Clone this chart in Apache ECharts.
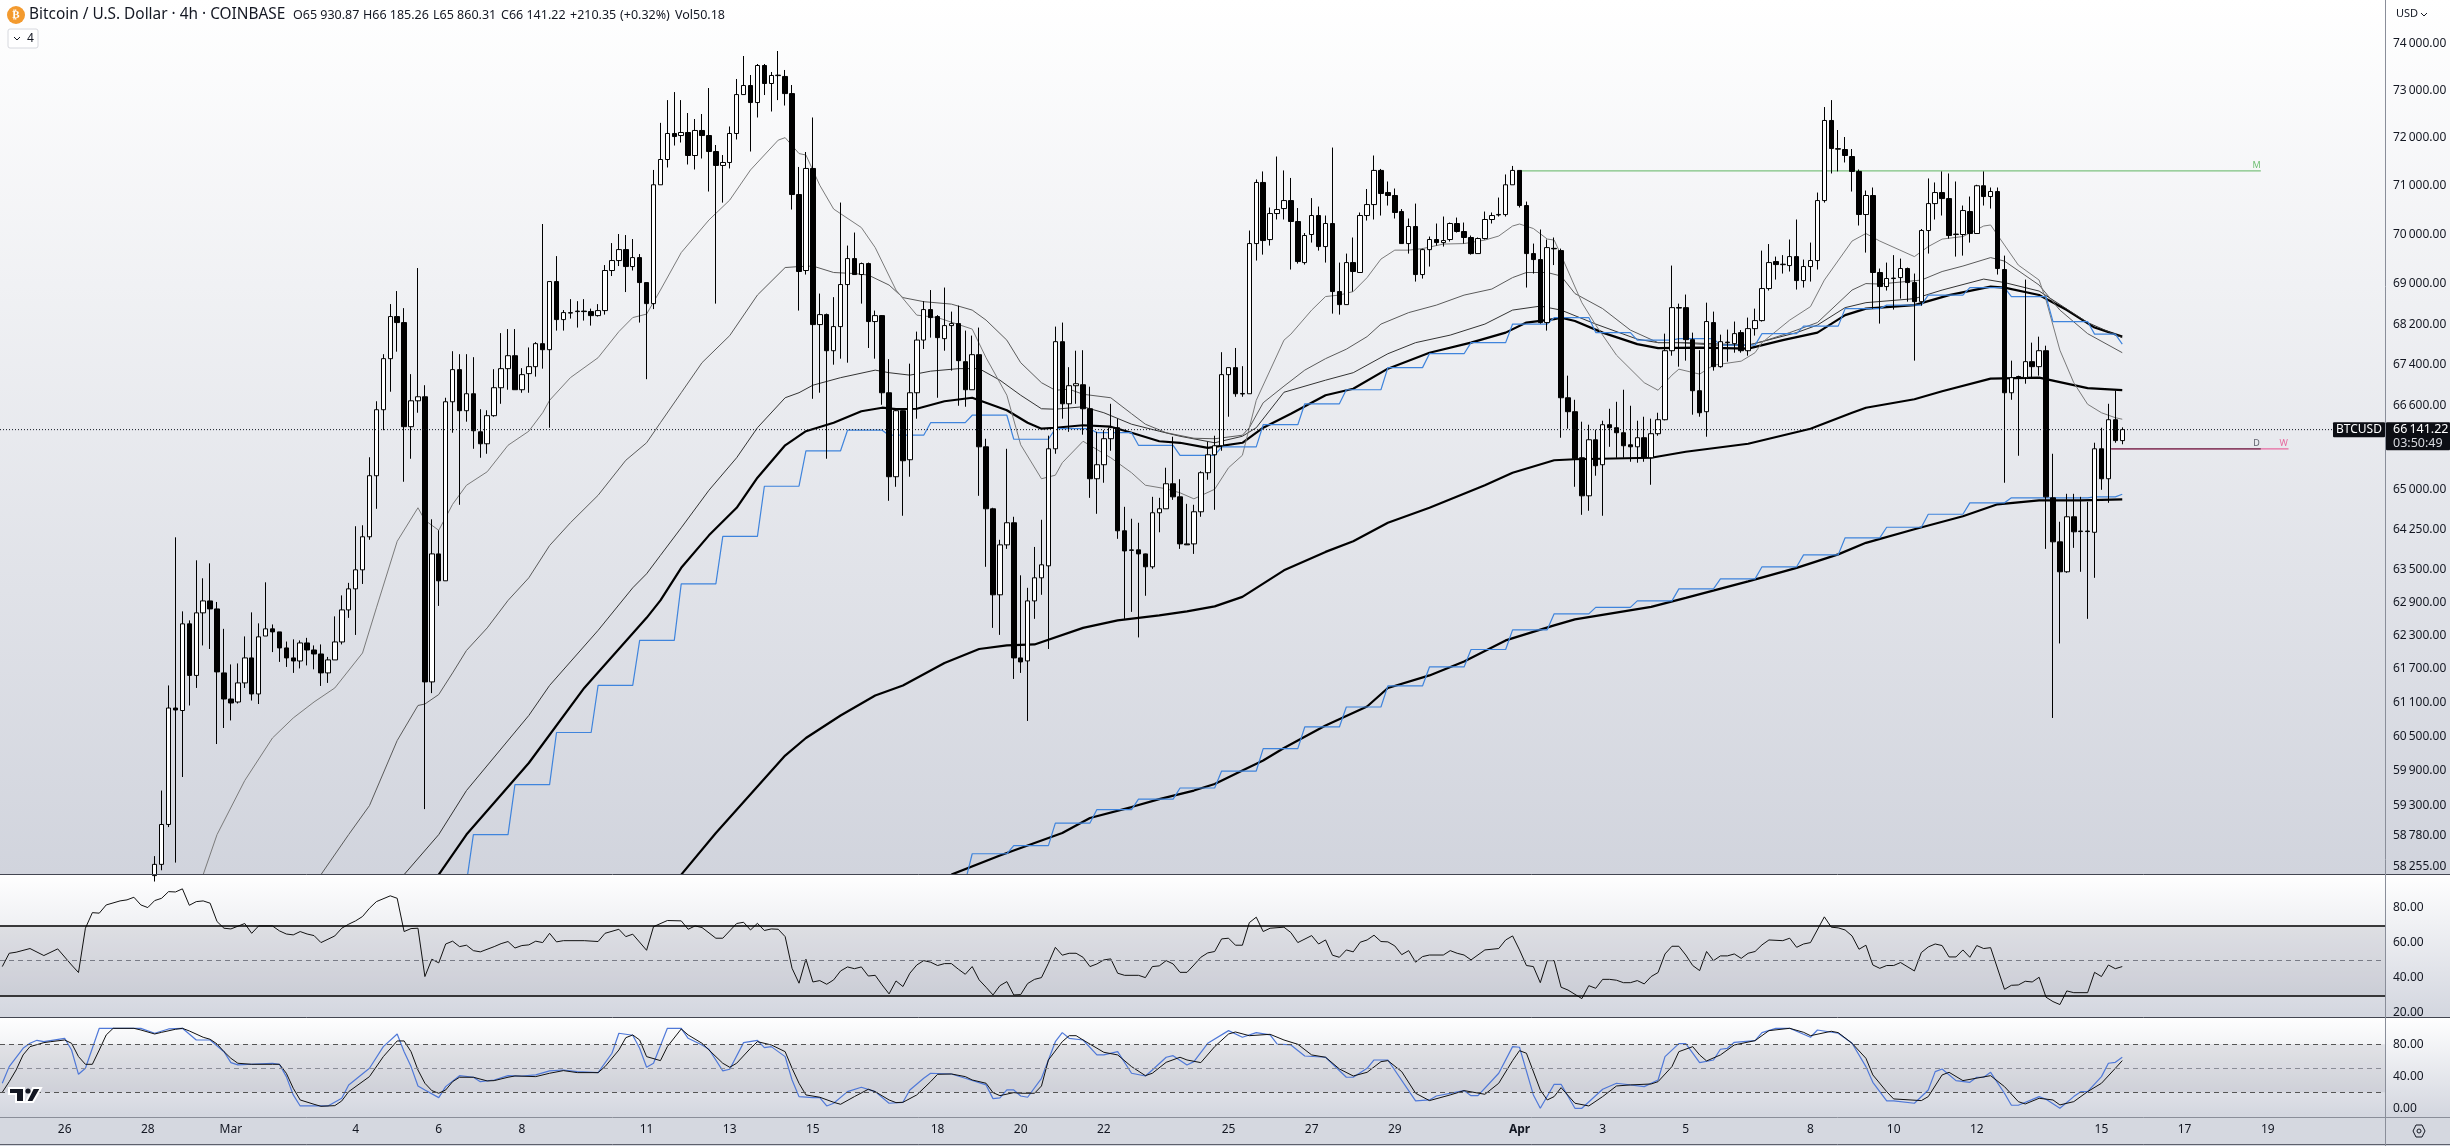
<!DOCTYPE html>
<html><head><meta charset="utf-8">
<style>html,body{margin:0;padding:0;background:#fff}#c{width:2450px;height:1146px}</style>
<script src="https://cdn.jsdelivr.net/npm/echarts@6/dist/echarts.min.js"></script>
</head><body><div id="c"></div>
<script>
// rows: open, close, low, high — first row is bar 0
const candlesA=[[58100,58290,58000,58430],[58290,58969,58190,59554],[58970,61000,58925,61402],[61000,60965,58320,64103],[60956,62511,59789,62738],[62511,61581,61045,62574],[61581,62711,61357,63676],[62711,62929,62120,63344],[62929,62783,62056,63620],[62783,61644,60365,62910],[61626,61160,60647,62420],[61160,61089,60780,61778],[61107,61447,61080,61796],[61447,61895,61357,62283],[61895,61250,61133,62720],[61250,62275,61071,62520],[62290,62420,62290,63270],[62420,62365,62000,62500],[62365,62075,61823,62365],[62075,61895,61733,62190],[61895,61840,61626,62230],[61840,62165,61706,62210],[62165,62038,61760,62257],[62038,61966,61690,62120],[61966,61626,61393,62138],[61626,61859,61447,61913],[61859,62183,61859,62647],[62183,62765,62138,63030],[62765,63150,62620,63260],[63150,63500,62310,64310],[63500,64113,63240,64328],[64113,65261,64057,65612],[65261,66525,64637,66689],[66525,67520,66130,67608],[67520,68351,66874,68600],[68351,68232,67657,68860],[68232,66198,65147,68519],[66198,66698,65584,67217],[66698,66776,66467,69322],[66776,61465,59234,67001],[61465,63795,61265,64440],[63795,63298,62838,64234],[63298,66679,63298,66757],[66679,67305,66082,67666],[67305,66506,64712,67608],[66506,66835,66294,67608],[66835,66120,65774,67549],[66100,65870,65603,66535],[65870,66410,65679,66515],[66410,66952,66390,67314],[66952,67324,66640,68023],[67324,67578,66913,68103],[67578,66913,66913,68103],[66913,67207,66854,67334],[67227,67363,66854,67740],[67363,67815,67168,67845],[67815,67696,67324,70215],[67696,69050,66178,69050],[69050,68291,68073,69563],[68291,68430,68073,68480],[68420,68430,68311,68698],[68450,68460,68133,68658],[68460,68450,68271,68698],[68450,68370,68172,68509],[68370,68470,68351,68599],[68470,69272,68390,69382],[69272,69473,69161,69827],[69473,69695,69362,70011],[69695,69352,68840,69990],[69352,69533,69272,69909],[69533,69030,68232,69604],[69030,68609,67118,69030],[68609,71020,68500,71327],[71020,71544,71020,72310],[71544,72087,71378,72790],[72087,72023,71835,72960],[72044,72108,71898,72790],[72108,71627,71440,72517],[71627,72150,71337,72391],[72150,72044,71565,72496],[72044,71710,70881,73046],[71710,71420,68609,71846],[71420,71482,70653,71637],[71482,72087,71358,72234],[72087,72907,71961,73238],[72907,73099,72907,73729],[73099,72738,71710,73323],[72738,73526,72423,73558],[73526,73142,72897,73558],[73142,73313,72549,73387],[73310,73320,72790,73836],[73292,72928,72675,73430],[72928,70819,70511,73110],[70819,69252,68470,71389],[69272,71358,69191,71700]];
const candlesB=[[71358,68192,66737,72423],[68192,68390,66855,68810],[68390,67676,65584,68410],[67676,68152,67402,68738],[68152,68990,67520,70654],[68990,69513,67441,69776],[69513,69191,69191,70041],[69191,69412,68609,69432],[69412,68252,67730,69432],[68252,68370,67520,68470],[68370,66854,66621,68380],[66854,65242,64787,67510],[65242,66506,65052,66525],[66506,65546,64506,66510],[65565,66854,65242,67422],[66854,67886,66352,68053],[67886,68490,67710,68658],[68490,68331,67934,68880],[68351,67934,66757,68380],[67914,68172,67676,68930],[68172,68212,67285,68450],[68212,67481,66602,68569],[67461,66913,66583,68073],[66913,67598,66913,67974],[67598,65812,64881,68133],[65812,64637,63556,65966],[64637,63041,62438,64656],[63041,63963,62311,64057],[63963,64375,63888,65774],[64375,61895,61518,64487],[61895,61823,61626,63399],[61841,62929,60771,63169],[62929,63353,62602,63924],[63353,63593,63041,64431],[63574,65774,62056,66026],[65774,67854,65679,68152],[67854,66640,66352,68232],[66640,66991,66100,67353],[66991,67030,66640,67676],[67010,66544,66044,67686],[66544,65204,64843,66972],[65204,65470,64543,66100],[65470,65967,65128,66130],[65967,66178,65736,66640],[66178,64225,64075,66352],[64225,63850,62602,64674],[63860,63870,62729,64450],[63870,63795,62265,64375],[63795,63556,63023,63800],[63556,64562,63519,64862],[64562,64637,64197,64843],[64637,65109,64637,65413],[65109,64862,64805,66005],[64862,63981,63888,65195],[63981,63963,63963,64730],[63981,64581,63795,64712],[64581,65318,64487,65346],[65318,65660,65185,65908],[65660,65832,64618,66024],[65832,67207,65736,67647],[67207,67344,66390,67344],[67344,66835,66776,67730],[66830,66840,66776,67373],[66835,69817,66835,70082],[69817,71068,69473,71130],[71068,69878,69593,71296],[69898,70429,69776,70552],[70429,70511,70307,71606],[70531,70695,70307,71317],[70695,70266,69292,71161],[70266,69453,69412,70542],[69432,69980,69392,70031],[70001,70388,69837,70746],[70388,69756,69674,70572],[69756,70225,69432,70388],[70225,68850,68410,71793],[68850,68589,68390,69432],[68589,69432,68589,69614],[69432,69252,68850,69940],[69232,70388,69232,70450],[70388,70613,70286,70933],[70613,71317,70307,71627],[71317,70840,70388,71348],[70860,70799,70593,71088],[70799,70450,70327,70943],[70470,69817,69817,70521],[69817,70164,69614,70327],[70164,69191,69050,70633],[69191,69694,69110,69715],[69694,69899,69352,69960],[69899,69837,69776,70225],[69837,69878,69756,70368],[69899,70225,69858,70245],[70225,70062,70041,70347],[70062,69940,69817,70245],[69940,69614,69593,69980],[69614,69919,69614,69940],[69919,70307,69899,70470],[70307,70388,70225,70450]];
const candlesC=[[70400,70410,70368,70757],[70408,71020,70368,71234],[71020,71317,71020,71410],[71317,70593,70552,71317],[70593,69614,68930,70674],[69614,69493,69211,69817],[69493,68232,68212,70103],[68232,69735,68073,69899],[69720,69710,69382,69940],[69674,66757,65986,69715],[66757,66487,66159,67187],[66487,65584,65052,66718],[65603,64881,64524,66294],[64881,65947,64600,66236],[65947,65451,65261,66140],[65470,66236,64506,66313],[66236,66178,65812,66544],[66178,66082,65603,66679],[66082,65832,65603,66913],[65851,65812,65527,66602],[65812,65986,65508,66313],[65986,65603,65527,66390],[65603,66063,65090,66352],[66063,66332,66024,66467],[66332,67676,66320,68013],[67676,68529,67578,69372],[68530,68520,67363,68609],[68529,67894,67481,68790],[67894,66894,66429,68033],[66894,66467,66390,67686],[66487,68252,66005,68628],[68232,67363,67285,68450],[67363,67854,67344,67993],[67835,67845,67461,68093],[67815,68013,67637,68252],[68033,67676,67637,68083],[67676,68112,67578,68331],[68112,68271,67974,68509],[68271,68910,68252,69674],[68910,69432,68870,69807],[69453,69392,69090,69553],[69390,69400,69211,69583],[69372,69553,69252,69899],[69553,69070,68890,70307],[69070,69352,68930,69493],[69352,69473,69050,69837],[69473,70695,69292,70860],[70695,72360,70653,72643],[72360,71772,71254,72790],[71770,71760,71296,72160],[71752,71627,71482,72013],[71606,71296,70881,71762],[71296,70409,70184,71337],[70409,70799,69634,70902],[70799,69232,68509,70964],[69232,68950,68212,69312],[68950,69111,68870,69432],[69110,69120,68490,69583],[69130,69312,68708,69513],[69312,69030,68648,69332],[69030,68648,67481,69211],[68648,70082,68569,70113],[70082,70633,69614,71151],[70633,70860,70307,71068],[70860,70736,70388,71296],[70736,69980,69919,71254],[70000,70010,69553,71088],[70001,70490,69573,70593],[70470,70021,69837,70778],[70021,71000,70021,71020],[71000,70778,70593,71296],[70778,70881,70531,70964],[70881,69312,69191,70964],[69292,66854,65128,69573],[66854,67148,66718,67481],[67160,67170,65641,67187],[67148,67461,67030,69090],[67461,67363,67128,67835],[67363,67676,67187,67953],[67676,64862,63888,67775],[64843,64019,60824,65679],[64019,63464,62156,64394],[63464,64487,63445,64919],[64487,64206,63907,64919],[64210,64220,63464,64862],[64220,64210,62602,64768],[64197,65774,63353,65890],[65774,65204,64995,66178],[65204,66332,64749,66640],[66332,65930.87,65890,66894],[65930.87,66141.22,65860.31,66185.26]];

// moving averages as [bar, price] knots
const maA=[[7,58117],[9,58797],[13,59728],[17,60471],[20,60824],[23,61107],[26,61357],[30,61984],[32,62802],[35,64029],[38,64656],[39,64422],[41,64234],[43,64721],[45,65080],[48,65337],[51,65841],[54,66111],[56,66467],[57,66708],[60,67148],[64,67539],[67,68053],[69,68331],[71,68400],[73,68880],[76,69634],[80,70297],[83,70705],[86,71327],[90,71948],[91,72000],[93,71668],[94,71637],[96,71010],[98,70521],[102,70143],[104,69735],[107,68880],[110,68380],[113,68331],[118,68103],[120,67539],[123,66806],[125,65851],[128,65204],[130,65271],[131,65508],[134,65918],[138,65603],[141,65318],[143,65081],[146,65014],[148,64938],[150,64824],[153,65005],[155,65413],[157,65650],[159,66708],[163,67884],[164,68003],[167,68480],[169,68750],[171,68780],[173,68850],[175,69130],[177,69503],[179,69684],[181,69684],[183,69715],[186,69807],[189,69817],[192,69888],[194,69970],[196,70174],[197,70215],[199,70123],[201,69909],[202,69888],[203,69583],[206,68628],[208,68182],[211,67588],[215,67050],[217,66903],[219,67197],[220,67314],[223,67217],[225,67392],[229,67471],[231,67637],[232,67835],[236,68281],[239,68549],[241,69080],[245,69868],[247,70021],[249,69868],[254,69553],[256,69756],[258,69908],[261,69960],[264,70174],[265,70195],[266,69990],[269,69382],[272,69080],[273,68678],[275,67686],[277,67050],[279,66631],[281,66467],[283,66371],[284,66342]];
const maB=[[24,58117],[28,58797],[31,59294],[35,60426],[38,61045],[39,61071],[41,61240],[43,61626],[45,62029],[48,62438],[51,62938],[54,63353],[57,63950],[60,64375],[64,64891],[68,65555],[71,65889],[73,66275],[76,66855],[79,67441],[83,67974],[87,68780],[91,69332],[93,69352],[95,69362],[98,69232],[101,69211],[103,69181],[106,68980],[108,68729],[111,68648],[115,68599],[118,68480],[120,68281],[123,67884],[125,67441],[128,67050],[130,66903],[132,66923],[134,66825],[138,66757],[141,66448],[143,66246],[146,66082],[150,65976],[153,65966],[157,66034],[158,66178],[160,66660],[163,66982],[166,67295],[169,67520],[172,67706],[175,67954],[177,68202],[181,68430],[185,68579],[189,68779],[193,68900],[196,69130],[198,69232],[201,69232],[203,69161],[205,68810],[209,68509],[213,68083],[217,67835],[220,67835],[225,67785],[230,67785],[232,67854],[236,68033],[240,68232],[245,68880],[247,69010],[249,69000],[255,69080],[258,69252],[261,69362],[265,69533],[267,69462],[272,68980],[275,68480],[279,68013],[284,67637]];
const maC=[[36,58117],[41,58797],[45,59554],[54,60868],[57,61402],[64,62392],[69,63169],[71,63427],[73,63768],[76,64281],[80,64986],[84,65603],[87,66178],[91,66757],[93,66855],[95,67001],[99,67148],[104,67295],[106,67245],[109,67197],[112,67275],[116,67324],[119,67324],[122,67099],[125,66806],[128,66544],[130,66535],[134,66583],[137,66467],[141,66246],[145,66111],[148,66014],[153,65889],[157,66014],[159,66178],[163,66864],[169,67099],[173,67245],[178,67617],[182,67835],[187,67984],[192,68202],[196,68480],[200,68559],[203,68480],[208,68202],[214,67904],[217,67835],[221,67835],[230,67785],[237,68033],[240,68182],[244,68529],[247,68628],[254,68708],[258,68880],[264,69100],[267,69030],[272,68860],[279,68232],[284,67934]];
const maD=[[41,58117],[45,58797],[54,60033],[62,61357],[71,62620],[73,62938],[76,63537],[80,64140],[84,64656],[87,65223],[91,65841],[94,66111],[98,66275],[102,66496],[105,66564],[107,66535],[110,66544],[114,66689],[118,66757],[120,66660],[123,66515],[126,66275],[128,66159],[130,66178],[134,66226],[138,66198],[141,66082],[145,65918],[148,65889],[152,65793],[157,65889],[160,66178],[164,66448],[169,66806],[173,66933],[178,67324],[184,67637],[190,67835],[195,68033],[198,68232],[202,68301],[203,68331],[205,68262],[209,68033],[214,67805],[217,67726],[223,67736],[230,67716],[235,67884],[240,68033],[244,68380],[247,68509],[254,68579],[259,68779],[265,68950],[267,68930],[272,68780],[276,68480],[280,68133],[284,67954]];
const maE=[[76,58117],[81,58823],[91,60163],[94,60471],[99,60868],[104,61223],[108,61402],[114,61805],[119,62056],[123,62120],[127,62138],[134,62438],[139,62574],[145,62665],[149,62738],[153,62829],[157,63003],[163,63491],[169,63832],[173,64029],[178,64375],[184,64656],[192,65081],[196,65318],[202,65555],[205,65574],[216,65603],[221,65717],[230,65870],[239,66159],[245,66467],[247,66564],[254,66728],[258,66884],[265,67128],[272,67148],[279,66943],[284,66904]];
const maF=[[115,58117],[122,58440],[131,58823],[135,59080],[141,59269],[145,59406],[150,59554],[153,59667],[157,59902],[160,60076],[163,60295],[169,60691],[175,61027],[178,61357],[184,61581],[189,61832],[195,62211],[202,62484],[205,62593],[216,62820],[221,62984],[230,63288],[237,63537],[243,63786],[247,64000],[254,64253],[261,64496],[266,64721],[272,64796],[278,64796],[284,64815]];

// blue daily steps: one value per 6 bars from the start bar
const stepUpperStart=40;
const stepUpper=[57980,58797,59658,60568,61402,62211,63242,64122,65062,65736,66130,66034,66275,66419,65957,66159,66082,65841,65650,65812,66236,66640,66913,67344,67617,67835,68202,68331,68033,67884,67914,67785,68013,68162,68509,68579,68780,68930,68750,68252,68003];
const stepUpperLast=[284,67805];
const stepLowerStart=112;
const stepLower=[58000,58470,58609,58994,59226,59406,59598,59893,60285,60665,61018,61393,61733,62047,62402,62693,62811,62929,63150,63334,63556,63777,64094,64291,64534,64749,64843,64843,64862];
const stepLowerLast=[284,64910];

const rsi=[[-22,46.4],[-21,54],[-20,54.6],[-18,56.7],[-16,52.7],[-14,56.5],[-12,47.3],[-11,43],[-10,68.3],[-9,77.2],[-8,76.9],[-7,81.6],[-5,83.9],[-4,84.5],[-3,86],[-2,81.6],[-1,80.1],[0,84.1],[1,85.4],[2,89.2],[3,89],[4,90.8],[5,81.4],[6,83.5],[7,83.9],[8,82.6],[9,72.1],[10,68.3],[11,67.9],[13,71],[14,65.4],[15,69.6],[17,69.6],[18,66.8],[19,65],[20,64.5],[21,66.4],[22,65],[23,64.1],[24,60.1],[26,63.9],[27,68.3],[28,70.6],[29,72.5],[30,75],[31,79.7],[32,83.5],[34,86.8],[35,85.4],[36,66.4],[37,68.1],[38,68.3],[39,40.7],[40,50.6],[41,48.5],[42,59.3],[43,60.9],[44,57.8],[45,58.6],[46,55.5],[47,54.8],[49,57.8],[50,59.5],[51,60.7],[52,57],[53,58.4],[54,58.8],[55,60.9],[56,60.1],[57,65.4],[58,60.5],[59,61.2],[62,61.2],[64,60.7],[65,65.4],[67,67.7],[68,63.5],[69,64.9],[71,55.7],[72,69.2],[74,72.7],[76,72.5],[77,67.7],[78,69.6],[79,68.7],[81,62.6],[82,62.6],[84,71],[85,71.7],[86,67.3],[87,71.1],[88,67],[89,67.9],[90,67.7],[91,63.5],[92,45.4],[93,36.9],[94,50.6],[95,37.6],[96,38.4],[97,36.3],[98,38.8],[99,43.9],[100,46.2],[101,45.2],[102,46.2],[103,41],[104,41.4],[105,35.9],[106,30.8],[107,38.2],[108,35],[109,42.6],[110,47.3],[111,49.8],[112,48.9],[113,47],[114,48.1],[115,48.1],[116,44.9],[117,42],[118,46.4],[119,38.8],[120,34.6],[121,30.2],[122,35.5],[123,37.8],[124,30.2],[125,30.4],[126,36.7],[127,39.1],[128,40.1],[129,48.3],[130,57.4],[131,52.9],[132,54],[133,54],[134,51.7],[135,46.4],[136,47.9],[137,50.2],[138,50.8],[139,42.6],[140,41.4],[142,41.4],[143,40.1],[144,46.4],[145,46.8],[146,49.8],[147,47.9],[148,43.1],[149,43.1],[150,47.3],[151,51.7],[152,54.2],[153,55],[154,62.2],[155,62.6],[156,58.6],[157,58.6],[158,71.5],[159,74.6],[160,66.4],[161,68.3],[163,68.9],[164,65.8],[165,60.1],[167,64.1],[168,59.3],[169,61.6],[170,52.9],[171,51.7],[172,55.9],[173,54.8],[174,60.3],[175,61.6],[176,64.3],[177,60.7],[178,60.5],[179,58.2],[180,53.2],[181,55.5],[182,48.9],[183,52.1],[184,53],[186,53],[187,55.5],[188,54],[189,53],[190,50.2],[192,55.9],[194,56.7],[195,61.6],[196,63.9],[197,55.9],[198,47],[199,46.4],[200,37.2],[201,49.8],[202,49.8],[203,34.6],[204,33],[206,28.1],[207,35.5],[208,34],[209,39.1],[210,39.1],[211,38.6],[212,37.2],[213,37.2],[214,38.4],[215,36.5],[216,40.7],[217,43],[218,53.6],[219,58],[220,58],[221,53],[222,47],[223,44.1],[224,55],[225,49.8],[226,52.5],[227,52.5],[228,53.6],[229,51.1],[230,54],[231,55],[232,58.8],[233,61.6],[235,61.2],[236,62.6],[237,57.4],[238,59.3],[239,60.1],[241,74.8],[242,68.9],[243,68.5],[244,67.3],[245,63.9],[246,56.3],[247,58.6],[248,47.3],[249,45.4],[250,47],[251,47],[252,48.7],[254,43.9],[255,54.4],[256,57.6],[257,59.3],[258,58.4],[259,51.9],[260,51.9],[261,55.9],[262,51.7],[263,58.4],[264,56.7],[265,57.2],[267,33.4],[268,35.7],[269,35.9],[270,38],[271,37.6],[272,40.3],[273,28.9],[274,26.4],[275,24.7],[276,32.5],[277,31.5],[279,31.5],[280,43.1],[281,40.7],[282,47.3],[283,45.2],[284,46.4]];

const stochK=[[-22,31.3],[-21,52.1],[-19,75],[-18,81.3],[-17,85],[-16,83.3],[-13,87.5],[-12,72.9],[-11,42.5],[-10,50],[-9,75],[-8,100],[-2,100],[0,93.8],[2,99.2],[4,100],[6,85.4],[8,85.4],[10,70.8],[11,57.1],[12,54.2],[17,56.3],[18,55],[19,39.6],[20,16.7],[21,2.9],[23,2.9],[25,2.9],[27,12.5],[28,29.2],[31,50],[33,77.1],[35,92.9],[36,70.8],[37,52.1],[38,27.9],[39,22.9],[41,13.3],[42,27.1],[44,40.8],[46,38.8],[47,33.3],[49,35.4],[51,40.8],[53,40.4],[55,41.7],[57,46.7],[59,47.9],[61,45.8],[64,44.6],[66,68.8],[67,93.8],[69,91.3],[70,75],[71,51.3],[72,56.3],[74,100],[76,100],[77,87.5],[79,79.2],[80,73.8],[82,46.7],[83,48.8],[85,82.1],[87,85],[88,75.8],[89,77.1],[91,64.6],[92,35.4],[93,14.6],[95,13.3],[96,13.3],[97,2.9],[98,6.3],[100,20.8],[102,26.3],[104,20.8],[106,6.3],[108,7.5],[109,22.9],[111,37.5],[112,43.8],[115,42.9],[117,37.5],[120,29.2],[121,12.1],[122,12.9],[123,22.9],[124,22.9],[125,15.4],[126,13.8],[128,37.5],[130,83.3],[131,94.6],[132,87.5],[134,85.4],[136,66.7],[137,66.7],[139,70.8],[141,43.8],[143,40.4],[144,47.9],[146,63.8],[147,65.8],[149,54.2],[150,58.3],[152,81.3],[155,97.1],[157,88.8],[159,94.6],[161,91.7],[162,80.4],[164,79.2],[166,65.4],[169,63.8],[172,38.8],[173,38.8],[175,50],[176,60.4],[178,60.4],[182,9.2],[184,10.4],[185,15.4],[189,22.1],[190,15.8],[191,15.8],[194,43.8],[196,77.1],[197,76.3],[199,16.7],[200,0],[202,30],[203,30],[205,0],[206,0],[209,23.8],[211,31.3],[215,27.1],[217,35.4],[218,64.6],[220,80.8],[221,80.8],[223,57.1],[225,60.4],[226,73.8],[227,75],[228,82.5],[231,84.6],[232,94.6],[234,100],[236,100],[239,88.8],[240,97.9],[243,93.8],[245,81.3],[247,52.1],[248,32.5],[250,9.2],[251,9.2],[254,6.3],[256,22.9],[257,45.8],[258,49.2],[260,34.6],[262,32.5],[263,38.8],[264,38.8],[265,45],[267,18.8],[268,3.8],[269,3.8],[272,14.6],[273,11.3],[275,0],[277,14.6],[278,20.8],[279,20.8],[281,39.6],[282,56.3],[283,57.5],[284,63.8]];
const stochD=[[-22,20],[-21,33.3],[-20,47.9],[-19,66.7],[-18,77.1],[-16,82.1],[-15,83.3],[-13,85.4],[-12,81.3],[-11,64.6],[-10,55],[-9,55],[-8,72.9],[-7,91.7],[-6,100],[-3,100],[-2,97.9],[0,92.9],[1,95],[3,98.8],[4,100],[5,96.7],[7,88.8],[8,86.3],[9,80.4],[10,70.8],[11,62.5],[12,56.3],[14,55],[17,55],[18,55],[19,43.8],[20,25],[21,10.4],[23,5],[24,2.5],[26,3.3],[27,9.2],[28,20.8],[31,39.6],[33,64.6],[35,84.2],[36,84.2],[37,70.8],[38,47.9],[39,31.3],[40,22.1],[41,18.8],[42,22.9],[43,33.3],[44,38.8],[46,38.8],[48,34.2],[49,34.6],[51,38.8],[52,40.4],[55,39.6],[57,43.8],[59,47.1],[61,44.6],[64,44.6],[65,52.1],[67,72.9],[68,88.3],[69,91.7],[70,85.4],[71,64.6],[73,59.6],[74,77.1],[76,99.2],[77,91.7],[79,81.3],[80,72.9],[82,56.3],[83,51.3],[84,56.3],[86,75],[87,83.3],[89,79.2],[91,70.8],[92,50],[93,31.3],[94,16.7],[96,13.8],[98,7.5],[99,5],[101,14.6],[103,23.8],[104,20.8],[106,10.4],[107,7.1],[108,7.5],[110,16.7],[112,33.3],[113,42.5],[115,42.9],[117,39.6],[118,35.4],[120,31.3],[121,19.6],[122,15.8],[124,19.6],[125,18.8],[127,18.8],[128,27.9],[129,60.4],[131,83.3],[132,90.8],[133,90.8],[134,85.4],[137,70],[139,66.7],[141,52.1],[143,40.8],[144,43.8],[146,57.5],[148,63.8],[149,60.4],[151,57.1],[153,77.1],[155,92.9],[156,95.4],[158,90.8],[161,92.5],[163,85.4],[165,80],[167,66.7],[169,63.8],[171,49.2],[173,40.4],[175,45],[177,58.3],[178,59.6],[180,45.8],[182,18.8],[184,9.6],[187,16.7],[189,22.1],[192,17.5],[194,31.3],[196,59.6],[197,72.1],[198,68.8],[200,22.9],[201,10.4],[202,14.6],[203,25.8],[205,6.3],[207,2.9],[209,14.6],[211,27.9],[213,29.2],[216,30.4],[217,33.3],[219,52.1],[220,70.8],[222,77.1],[223,66.7],[224,59.2],[226,66.7],[228,79.2],[231,84.6],[233,97.1],[236,100],[238,95],[239,90.8],[242,96.3],[243,94.6],[245,81.3],[247,62.5],[248,41.7],[250,20.8],[251,11.7],[255,9.6],[256,14.6],[258,41.7],[259,45],[261,34.6],[265,40.8],[267,27.1],[269,8.3],[270,5.4],[272,12.5],[274,10.4],[275,4.2],[277,8.3],[279,20.8],[281,31.3],[283,50],[284,59.6]];

const priceTicks=[74000,73000,72000,71000,70000,69000,68200,67400,66600,65000,64250,63500,62900,62300,61700,61100,60500,59900,59300,58780,58255];
const rsiTicks=[80,60,40,20];
const stochTicks=[80,40,0];
const timeTickBars=[-13,-1,11,29,41,53,71,83,95,113,125,137,155,167,179,197,209,221,239,251,263,281,293,305];
const timeTickLabels=['26','28','Mar','4','6','8','11','13','15','18','20','22','25','27','29','Apr','3','5','8','10','12','15','17','19'];
const lastClose=66141.22, levelM=71307, levelD=65774;
const header=[['O65 930.87',293],['H66 185.26',363],['L65 860.31',433],['C66 141.22',501],['+210.35',570],['(+0.32%)',620],['Vol50.18',675]];

const W=2450,AX=2385,P1=874,P2=1017,P3=1117,H=1146;
const FONT='"Noto Sans",sans-serif', TXT='#131722';
const candles=candlesA.concat(candlesB,candlesC);
const ohlc=candles.map((r,i)=>[i,r[0],r[1],r[2],r[3]]);
function steps(start,vals,last){const out=[];vals.forEach((v,k)=>{const s=start+6*k;out.push([s,v]);if(s+5<last[0])out.push([s+5,v]);else out.push([last[0]-1,v]);});out.push(last);return out;}
const fmtNum=v=>{const s=(+v).toFixed(2);return s.replace(/\B(?=(\d{3})+\.)/g,'\u2009');};
const xMin=-154.7/6.928,xMax=(AX-154.7)/6.928;
const xBase=(g,extra)=>Object.assign({type:'value',gridIndex:g,min:xMin,max:xMax,axisLine:{show:false},axisTick:{show:false},splitLine:{show:false},axisLabel:{show:false}},extra||{});
const yBase=(g,extra)=>Object.assign({gridIndex:g,position:'right',axisLine:{show:false},axisTick:{show:false},splitLine:{show:false},axisLabel:{margin:8,color:TXT,fontSize:12,fontFamily:FONT,formatter:v=>fmtNum(v)}},extra);
const ln=(name,data,color,width,ax,extra)=>Object.assign({type:'line',name,data,xAxisIndex:ax,yAxisIndex:ax,symbol:'none',showSymbol:false,silent:true,z:3,lineStyle:{color,width}},extra||{});
const lvlTag=(text,bar,price,color)=>({silent:true,symbol:'circle',symbolSize:0,itemStyle:{color:'transparent'},label:{show:true,formatter:text,position:'top',distance:1,color,fontSize:9,fontFamily:FONT},data:[{coord:[bar,price]}]});
const grad=(c)=>({type:'linear',x:0,y:0,x2:0,y2:1,colorStops:[{offset:0,color:'#ffffff'},{offset:1,color:c}]});
const BOT='#d1d4dd';
const rect=(y,h,fill)=>({type:'rect',silent:true,z:-5,shape:{x:0,y,width:W,height:h},style:{fill}});
const hline=(y,x2,c)=>({type:'line',silent:true,z:20,shape:{x1:0,y1:y+.5,x2,y2:y+.5},style:{stroke:c,lineWidth:1}});
const txt=(text,x,y,o)=>({type:'text',silent:true,z:25,x,y,style:Object.assign({text,fill:TXT,font:'13px '+FONT,textVerticalAlign:'middle'},o||{})});

const graphics=[
 rect(0,P1,grad(BOT)),rect(P1,P2-P1,grad('#d3d6df')),rect(P2,P3-P2,grad('#d3d6df')),rect(P3,H-P3,'#d5d8e0'),
 hline(P1,W,'#434651'),hline(P2,W,'#434651'),hline(P3,W,'#8a8e99'),hline(H-2,W,'#5d606b'),
 {type:'line',silent:true,z:20,shape:{x1:AX+.5,y1:0,x2:AX+.5,y2:H},style:{stroke:'#8a8e99',lineWidth:1}},
 {type:'circle',silent:true,z:25,shape:{cx:16,cy:15,r:9},style:{fill:'#f39a2e'}},
 txt('\u20BF',16,15,{fill:'#fff',font:'bold 11px "DejaVu Sans"',textAlign:'center'}),
 txt('Bitcoin / U.S. Dollar \u00B7 4h \u00B7 COINBASE',29,15,{font:'15.4px '+FONT}),
 {type:'rect',silent:true,z:24,shape:{x:8,y:29,width:30,height:19,r:2},style:{fill:'#fff',stroke:'#d6d8de',lineWidth:1}},
 {type:'polyline',silent:true,z:25,shape:{points:[[14,37],[17,40],[20,37]]},style:{stroke:TXT,lineWidth:1,fill:'none'}},
 txt('4',27,39,{font:'12px '+FONT}),
 txt('USD',2396,14,{font:'11px '+FONT}),
 {type:'polyline',silent:true,z:25,shape:{points:[[2421,13],[2424,16],[2427,13]]},style:{stroke:TXT,lineWidth:1,fill:'none'}},
 {type:'polygon',silent:true,z:25,shape:{points:[[2413,1131],[2416,1125],[2422,1125],[2425,1131],[2422,1137],[2416,1137]]},style:{stroke:TXT,lineWidth:1,fill:'none'}},
 {type:'circle',silent:true,z:25,shape:{cx:2419,cy:1131,r:2},style:{stroke:TXT,lineWidth:1,fill:'none'}},
 {type:'polygon',silent:true,z:25,shape:{points:[[9,1088],[24,1088],[24,1102],[16,1102],[16,1094],[9,1094]]},style:{fill:'#131722',stroke:'#fff',lineWidth:2}},
 {type:'polygon',silent:true,z:25,shape:{points:[[33,1088],[41,1088],[33,1102],[26,1102]]},style:{fill:'#131722',stroke:'#fff',lineWidth:2}},
 {type:'circle',silent:true,z:26,shape:{cx:28,cy:1091,r:2.6},style:{fill:'#131722'}}
].concat(header.map(h=>txt(h[0],h[1],15,{font:'12.5px '+FONT})));

const chart=echarts.init(document.getElementById('c'),null,{renderer:'canvas',width:W,height:H});
chart.setOption({
 animation:false,backgroundColor:'transparent',tooltip:{show:false},legend:{show:false},
 grid:[{left:0,top:0,width:AX,height:P1},{left:0,top:P1+1,width:AX,height:P2-P1-1},{left:0,top:P2+1,width:AX,height:P3-P2-1}],
 xAxis:[xBase(0),xBase(1),xBase(2,{axisLabel:{show:true,customValues:timeTickBars,margin:7,color:TXT,fontSize:12,fontFamily:FONT,
   formatter:v=>{const s=timeTickLabels[timeTickBars.indexOf(v)];return s==='Apr'?'{b|'+s+'}':s;},rich:{b:{fontWeight:'bold',fontSize:12,fontFamily:FONT,color:TXT}}}})],
 yAxis:[
  yBase(0,{type:'log',logBase:10,min:58127,max:74939}),
  yBase(1,{type:'value',min:17.6,max:98.7}),
  yBase(2,{type:'value',min:-10.9,max:112.9})
 ],
 series:[
  ln('maF',maF,'#000',2.2,0),ln('maE',maE,'#000',2.2,0),ln('maD',maD,'#000',2.2,0),
  ln('maC',maC,'#333',1,0),ln('maB',maB,'#5a5a5a',1,0),ln('maA',maA,'#7a7a7a',1,0),
  ln('stepUpper',steps(stepUpperStart,stepUpper,stepUpperLast),'#3f84dc',1.2,0),
  ln('stepLower',steps(stepLowerStart,stepLower,stepLowerLast),'#3f84dc',1.2,0),
  {type:'candlestick',name:'BTCUSD',data:ohlc,encode:{x:0,y:[1,2,3,4]},xAxisIndex:0,yAxisIndex:0,barWidth:5,silent:true,z:5,
   itemStyle:{color:'#fff',color0:'#000',borderColor:'#000',borderColor0:'#000',borderWidth:1}},
  ln('last',[[xMin,lastClose],[xMax-7.5,lastClose]],'#131722',1,0,{z:6,lineStyle:{color:'#131722',width:1,type:[1,2]}}),
  ln('monthly',[[197,levelM],[304,levelM]],'#7cc27f',1.2,0,{markPoint:lvlTag('M',303.4,levelM,'#6fbf73')}),
  ln('weekly',[[282.4,levelD],[308,levelD]],'#e76a9f',1.2,0,{markPoint:lvlTag('W',307.3,levelD,'#e76a9f')}),
  ln('daily',[[282.4,levelD],[304,levelD]],'#6a2f4c',1.2,0,{z:4,markPoint:lvlTag('D',303.4,levelD,'#5d606b')}),
  ln('rsi',rsi,'#111',1,1,{markArea:{silent:true,itemStyle:{color:'rgba(110,112,125,0.13)'},data:[[{yAxis:30},{yAxis:70}]]},
   markLine:{silent:true,symbol:'none',label:{show:false},data:[{yAxis:70,lineStyle:{color:'#000',width:1.5,type:'solid'}},{yAxis:30,lineStyle:{color:'#000',width:1.5,type:'solid'}},{yAxis:50,lineStyle:{color:'#787b86',width:1,type:[5,4]}}]}}),
  ln('stochD',stochD,'#111',1,2,{z:4,markArea:{silent:true,itemStyle:{color:'rgba(110,112,125,0.13)'},data:[[{yAxis:20},{yAxis:80}]]},
   markLine:{silent:true,symbol:'none',label:{show:false},data:[{yAxis:80,lineStyle:{color:'#555',width:1,type:[5,4]}},{yAxis:50,lineStyle:{color:'#8a8d97',width:1,type:[5,4]}},{yAxis:20,lineStyle:{color:'#555',width:1,type:[5,4]}}]}}),
  ln('stochK',stochK,'#4f78d8',1.2,2)
 ],
 graphic:graphics
});
// axis label lists (custom ticks)
chart.setOption({yAxis:[{axisLabel:{customValues:priceTicks}},{axisLabel:{customValues:rsiTicks}},{axisLabel:{customValues:stochTicks}}]});
const py=chart.convertToPixel({yAxisIndex:0},lastClose);
chart.setOption({graphic:graphics.concat([
 {type:'rect',silent:true,z:30,shape:{x:AX-52,y:py-7.5,width:52,height:15,r:1},style:{fill:'#0c0e14'}},
 txt('BTCUSD',AX-26,py,{fill:'#fff',font:'12px '+FONT,textAlign:'center'}),
 {type:'rect',silent:true,z:30,shape:{x:AX+1,y:py-7.5,width:64,height:28,r:1},style:{fill:'#0c0e14'}},
 txt(fmtNum(lastClose),AX+8,py,{fill:'#fff',font:'12.5px '+FONT}),
 txt('03:50:49',AX+8,py+14,{fill:'#d6d8de',font:'12.5px '+FONT})
].map(g=>Object.assign(g,{z:g.type==='text'?31:30})))},{replaceMerge:['graphic']});
</script></body></html>
